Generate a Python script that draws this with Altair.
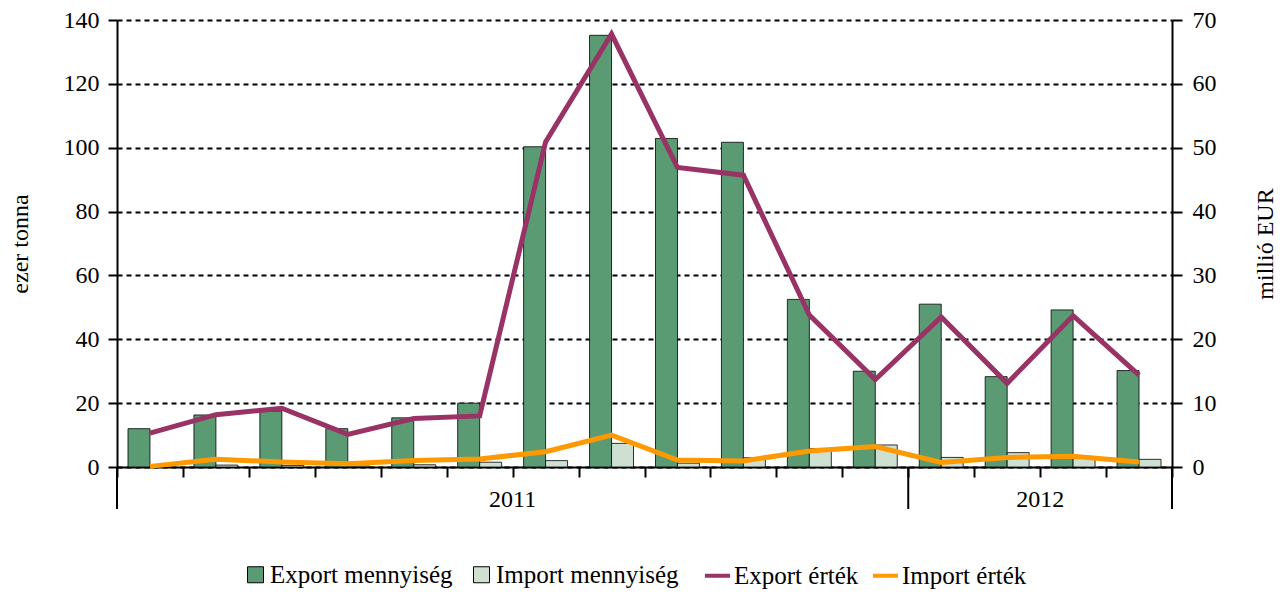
import altair as alt
import pandas as pd

# ---- data ----
months = ["2011-01", "2011-02", "2011-03", "2011-04", "2011-05", "2011-06",
          "2011-07", "2011-08", "2011-09", "2011-10", "2011-11", "2011-12",
          "2012-01", "2012-02", "2012-03", "2012-04"]
years = ["2011", "2012"]
months_per_year = [12, 4]

export_qty = [12.0, 16.3, 17.5, 12.0, 15.4, 20.0, 100.3, 135.2, 102.9, 101.7, 52.5, 30.0, 51.0, 28.3, 49.2, 30.2]
import_qty = [0.4, 0.6, 0.5, 0.3, 0.7, 1.5, 2.0, 7.4, 1.2, 2.9, 5.8, 6.9, 3.0, 4.5, 2.7, 2.4]
export_val = [5.3, 8.2, 9.2, 5.1, 7.6, 8.0, 50.9, 67.8, 46.9, 45.7, 23.8, 13.7, 23.5, 13.1, 23.7, 14.4]
import_val = [0.1, 1.2, 0.8, 0.5, 1.0, 1.25, 2.4, 5.0, 1.1, 0.95, 2.5, 3.2, 0.7, 1.5, 1.7, 0.8]

qty_series = ["Export mennyiség", "Import mennyiség"]
val_series = ["Export érték", "Import érték"]
qty_colors = ["#5b9b74", "#cde0d2"]
val_colors = ["#993366", "#ff9900"]

FONT = "Liberation Serif"
FS = 24

bar_rows = []
for i, m in enumerate(months):
    bar_rows.append({"i": i, "honap": m, "sorozat": qty_series[0], "ertek": export_qty[i], "k": 0})
    bar_rows.append({"i": i, "honap": m, "sorozat": qty_series[1], "ertek": import_qty[i], "k": 1})
bar_df = pd.DataFrame(bar_rows)

line_rows = []
for i, m in enumerate(months):
    line_rows.append({"i": i, "honap": m, "sorozat": val_series[0], "ertek": export_val[i]})
    line_rows.append({"i": i, "honap": m, "sorozat": val_series[1], "ertek": import_val[i]})
line_df = pd.DataFrame(line_rows)

year_df = pd.DataFrame({"ev": years, "honapok": months_per_year})

boundaries = [0]
for n in months_per_year:
    boundaries.append(boundaries[-1] + n)
boundary_df = pd.DataFrame({"hatar": boundaries})
n_months = len(months)

x_scale = alt.Scale(domain=[0, n_months], nice=False, zero=False)

x_axis = alt.Axis(
    values=list(range(0, n_months + 1)), labels=False, title=None, grid=False,
    domain=True, domainColor="black", domainWidth=2,
    ticks=True, tickColor="black", tickWidth=2, tickSize=10,
)

left_axis = alt.Axis(
    values=list(range(0, 141, 20)), title="ezer tonna",
    titleFont=FONT, titleFontSize=FS, titleFontWeight="normal", titleColor="black", titlePadding=31,
    labelFont=FONT, labelFontSize=FS, labelColor="black", labelPadding=9,
    tickSize=9, tickWidth=2, tickColor="black",
    domainColor="black", domainWidth=2,
    grid=True, gridColor="black", gridDash=[5, 4], gridWidth=2,
)

right_axis = alt.Axis(
    orient="right", values=list(range(0, 71, 10)), title="millió EUR",
    titleFont=FONT, titleFontSize=FS, titleFontWeight="normal", titleColor="black",
    titlePadding=37, titleAngle=270, titleBaseline="top",
    labelFont=FONT, labelFontSize=FS, labelColor="black", labelPadding=10,
    tickSize=10, tickWidth=2, tickColor="black",
    domainColor="black", domainWidth=2, grid=False,
)

bar_legend = alt.Legend(
    title=None, orient="none", legendX=126, legendY=542, direction="horizontal", columns=2,
    labelFont=FONT, labelFontSize=25, labelColor="black", labelLimit=0,
    symbolType="square", symbolSize=256, symbolStrokeColor="black", symbolStrokeWidth=1,
    symbolOpacity=1, labelOffset=2, columnPadding=16, padding=0,
)

line_legend = alt.Legend(
    title=None, orient="none", legendX=586, legendY=541, direction="horizontal", columns=2,
    labelFont=FONT, labelFontSize=25, labelColor="black", labelLimit=0,
    symbolType="stroke", symbolSize=625, symbolStrokeWidth=4,
    symbolOpacity=1, labelOffset=2, columnPadding=6, padding=0,
)

bars = alt.Chart(bar_df).transform_calculate(
    x0="datum.i + 1/6 + datum.k/3",
    x1="datum.i + 1/6 + datum.k/3 + 1/3",
).mark_rect(stroke="black", strokeWidth=0.8).encode(
    x=alt.X("x0:Q", scale=x_scale, axis=x_axis),
    x2="x1:Q",
    y=alt.Y("ertek:Q", scale=alt.Scale(domain=[0, 140], nice=False), axis=left_axis),
    y2=alt.datum(0),
    color=alt.Color("sorozat:N", scale=alt.Scale(domain=qty_series, range=qty_colors), legend=bar_legend),
)

lines = alt.Chart(line_df).transform_calculate(
    xc="datum.i + 0.5"
).mark_line(strokeWidth=5).encode(
    x=alt.X("xc:Q", scale=x_scale, axis=x_axis),
    y=alt.Y("ertek:Q", scale=alt.Scale(domain=[0, 70], nice=False), axis=right_axis),
    color=alt.Color("sorozat:N", scale=alt.Scale(domain=val_series, range=val_colors), legend=line_legend),
)

year_ticks = alt.Chart(boundary_df).mark_rule(color="black", strokeWidth=2).encode(
    x=alt.X("hatar:Q", scale=x_scale, axis=x_axis),
    y=alt.value(447),
    y2=alt.value(489),
)

year_text = alt.Chart(year_df).transform_window(
    cum="sum(honapok)"
).transform_calculate(
    xc="datum.cum - datum.honapok / 2"
).mark_text(font=FONT, fontSize=FS, color="black", baseline="middle").encode(
    x=alt.X("xc:Q", scale=x_scale, axis=x_axis),
    y=alt.value(480),
    text="ev:N",
)

chart = alt.layer(bars, lines, year_ticks, year_text).resolve_scale(
    y="independent", color="independent"
).properties(
    width=1055, height=447,
    autosize=alt.AutoSizeParams(type="none"),
    padding={"left": 109, "top": 12, "right": 107, "bottom": 123},
    background="white",
).configure_view(stroke=None)

chart.save("out.html", embed_options={"renderer": "svg", "actions": False})
